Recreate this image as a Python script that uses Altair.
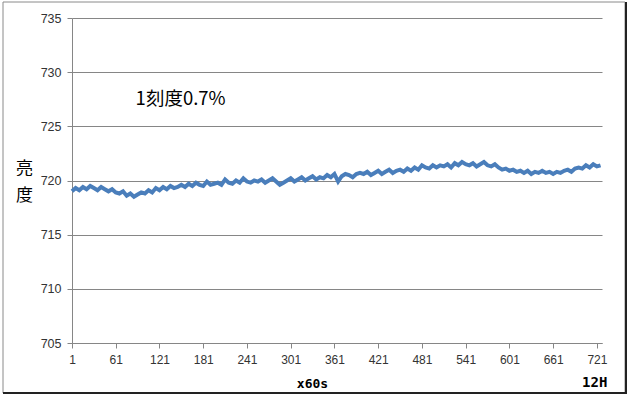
import altair as alt
import pandas as pd

# brightness readings, one every 5 minutes (index 1, 6, 11, ... 726)
values = [
    719.0, 719.3, 719.1, 719.4, 719.2, 719.5, 719.3, 719.1, 719.4, 719.2,
    719.0, 719.2, 718.9, 718.8, 719.0, 718.6, 718.8, 718.5, 718.7, 718.9,
    718.8, 719.1, 718.9, 719.3, 719.1, 719.4, 719.2, 719.5, 719.3, 719.4,
    719.6, 719.4, 719.7, 719.5, 719.8, 719.6, 719.5, 719.9, 719.6, 719.7,
    719.8, 719.6, 720.1, 719.8, 719.7, 720.0, 719.8, 720.2, 719.9, 719.8,
    720.0, 719.9, 720.1, 719.8, 720.0, 720.2, 719.9, 719.6, 719.8, 720.0,
    720.2, 719.9, 720.1, 720.3, 720.0, 720.2, 720.4, 720.1, 720.3, 720.2,
    720.5, 720.3, 720.6, 719.9, 720.4, 720.6, 720.5, 720.3, 720.6, 720.7,
    720.6, 720.8, 720.5, 720.7, 720.9, 720.6, 720.8, 721.0, 720.7, 720.9,
    721.0, 720.8, 721.1, 720.9, 721.2, 721.0, 721.4, 721.2, 721.1, 721.4,
    721.2, 721.4, 721.3, 721.5, 721.2, 721.6, 721.4, 721.7, 721.5, 721.4,
    721.6, 721.3, 721.5, 721.7, 721.4, 721.3, 721.5, 721.2, 721.0, 721.1,
    720.9, 721.0, 720.8, 720.9, 720.7, 720.9, 720.6, 720.8, 720.7, 720.9,
    720.7, 720.8, 720.6, 720.8, 720.7, 720.9, 721.0, 720.8, 721.1, 721.2,
    721.1, 721.4, 721.2, 721.5, 721.3, 721.4,
]
minutes = [1 + 5 * i for i in range(len(values))]
x_ticks = [1, 61, 121, 181, 241, 301, 361, 421, 481, 541, 601, 661, 721]
y_ticks = [705, 710, 715, 720, 725, 730, 735]
note_text = ["1刻度0.7%"]
note_x = [150]
note_y = [727.5]
end_label = ["12H"]
end_x = [718]

df = pd.DataFrame({"minute": minutes, "brightness": values})

x_scale = alt.Scale(domain=[1, 728], nice=False, zero=False)
y_scale = alt.Scale(domain=[705, 735], nice=False, zero=False)

frame = alt.Chart(pd.DataFrame({"a": [0]})).mark_rect(
    fill=None, stroke="#8a8a8a", strokeWidth=1
).encode(x=alt.value(-69), x2=alt.value(553), y=alt.value(-16), y2=alt.value(375))

shadow_b = alt.Chart(pd.DataFrame({"a": [0]})).mark_rule(
    color="#222222", strokeWidth=2
).encode(x=alt.value(-69), x2=alt.value(554), y=alt.value(375))
shadow_r = alt.Chart(pd.DataFrame({"a": [0]})).mark_rule(
    color="#222222", strokeWidth=2
).encode(x=alt.value(554), y=alt.value(-16), y2=alt.value(376))

line = alt.Chart(df).mark_line(color="#4a7ebb", strokeWidth=4).encode(
    x=alt.X(
        "minute:Q",
        scale=x_scale,
        axis=alt.Axis(
            values=x_ticks,
            grid=False,
            title="x60s",
            titleFont="DejaVu Sans Mono",
            titleFontWeight="bold",
            titleFontSize=13,
            titleColor="#000000",
            titleX=240,
            titleY=44,
            titleAlign="center",
            titleBaseline="alphabetic",
            labelFont="Liberation Sans",
            labelFontSize=12,
            labelColor="#333333",
            labelPadding=6,
            tickSize=5,
            tickColor="#868686",
            domainColor="#868686",
            labelFlush=False,
        ),
    ),
    y=alt.Y(
        "brightness:Q",
        scale=y_scale,
        axis=alt.Axis(
            values=y_ticks,
            grid=True,
            gridColor="#868686",
            title=["亮", "度"],
            titleAngle=0,
            titleFont="Noto Sans CJK JP",
            titleFontSize=17,
            titleFontWeight="normal",
            titleColor="#000000",
            titleLineHeight=27,
            titleX=-48,
            titleY=142,
            titleAlign="center",
            titleBaseline="top",
            labelFont="Liberation Sans",
            labelFontSize=12.5,
            labelColor="#333333",
            labelPadding=6,
            tickSize=5,
            tickColor="#868686",
            domainColor="#868686",
        ),
    ),
)

note = alt.Chart(pd.DataFrame({"t": note_text, "x": note_x, "y": note_y})).mark_text(
    font="Noto Sans CJK JP", fontSize=18.5, color="#000000", align="center", baseline="middle"
).encode(x=alt.X("x:Q", scale=x_scale), y=alt.Y("y:Q", scale=y_scale), text="t:N")

end = alt.Chart(pd.DataFrame({"t": end_label, "x": end_x})).mark_text(
    font="DejaVu Sans Mono", fontSize=14, fontWeight="bold", color="#000000",
    align="center", baseline="alphabetic"
).encode(x=alt.X("x:Q", scale=x_scale), y=alt.value(369), text="t:N")

chart = alt.layer(frame, shadow_b, shadow_r, line, note, end).properties(
    width=530,
    height=325,
    padding={"left": 72, "top": 18, "right": 27, "bottom": 53},
    autosize="none",
    background="white",
).configure_view(stroke=None)

chart.save("out.html", embed_options={"renderer": "svg", "actions": False})
